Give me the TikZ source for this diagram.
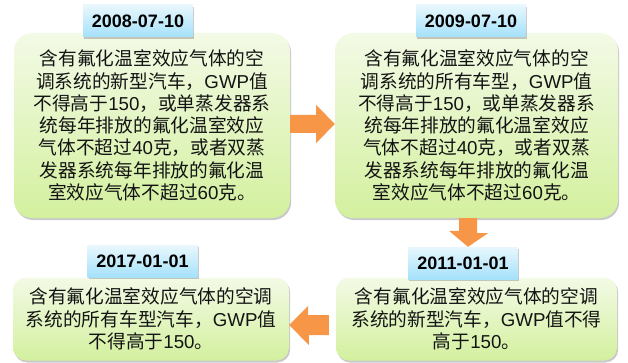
\documentclass[tikz,border=0pt]{standalone}
\usepackage{fontspec}
\setmainfont{Liberation Sans}
\newfontfamily\cjk{Noto Sans CJK SC}
\newcommand\la[1]{{\rmfamily #1}}
\usetikzlibrary{shadows,calc}
\definecolor{arrowc}{HTML}{F79646}
\definecolor{boxtop}{HTML}{F3FAE6}
\definecolor{boxbot}{HTML}{D3F09E}
\definecolor{tabtop}{HTML}{E8F7FD}
\definecolor{tabbot}{HTML}{A4E1FA}
\definecolor{txt}{HTML}{141414}
\tikzset{
  bigbox/.style={rounded corners=18pt, top color=boxtop, bottom color=boxbot,
    draw=none, inner sep=0pt, align=center, text=txt,
    font=\cjk\fontsize{18.7pt}{22.3pt}\selectfont,
    drop shadow={shadow xshift=1.2pt, shadow yshift=-2pt, opacity=0.35, fill=black!60}},
  smallbox/.style={bigbox, rounded corners=13pt},
  datetab/.style={top color=tabtop, bottom color=tabbot, draw=none, inner sep=0pt,
    minimum width=110pt, minimum height=32pt, text=black,
    font=\bfseries\fontsize{18pt}{21pt}\selectfont,
    drop shadow={shadow xshift=1.2pt, shadow yshift=-1.8pt, opacity=0.35, fill=black!60}},
  blockarrow/.style={fill=arrowc, draw=none}
}
\begin{document}
\begin{tikzpicture}[x=1pt,y=-1pt]
\useasboundingbox (0,0) rectangle (628,363);

\node[bigbox, minimum width=276pt, minimum height=185pt] (b1) at (152,125.5)
 {含有氟化温室效应气体的空\\
  调系统的新型汽车，\la{GWP}值\\
  不得高于\la{150}，或单蒸发器系\\
  统每年排放的氟化温室效应\\
  气体不超过\la{40}克，或者双蒸\\
  发器系统每年排放的氟化温\\
  室效应气体不超过\la{60}克。};
\node[bigbox, minimum width=283pt, minimum height=185pt] (b2) at (476.5,125.5)
 {含有氟化温室效应气体的空\\
  调系统的所有车型，\la{GWP}值\\
  不得高于\la{150}，或单蒸发器系\\
  统每年排放的氟化温室效应\\
  气体不超过\la{40}克，或者双蒸\\
  发器系统每年排放的氟化温\\
  室效应气体不超过\la{60}克。};
\node[smallbox, minimum width=281pt, minimum height=83pt] (b3) at (476.5,319)
 {含有氟化温室效应气体的空调\\
  系统的新型汽车，\la{GWP}值不得\\
  高于\la{150}。};
\node[smallbox, minimum width=276pt, minimum height=83pt] (b4) at (151,319)
 {含有氟化温室效应气体的空调\\
  系统的所有车型汽车，\la{GWP}值\\
  不得高于\la{150}。};

\node[datetab] (t1) at (138,21) {2008-07-10};
\node[datetab] (t2) at (471,21) {2009-07-10};
\node[datetab] (t3) at (463,263) {2011-01-01};
\node[datetab] (t4) at (142.5,261.5) {2017-01-01};

% right arrow b1 -> b2
\fill[blockarrow] ($(b1.east)+(0,-10.5)$) -- ++(26,0) -- ++(0,-10) -- ($(b2.west)+(0,-1.5)$)
  -- ($(b1.east)+(26,17.5)$) -- ++(0,-10) -- ($(b1.east)+(0,7.5)$) -- cycle;
% down arrow b2 -> t3
\fill[blockarrow] ($(b2.south)+(-17.5,0)$) -- ++(18,0) -- ++(0,15) -- ++(11,0)
  -- (t3.north -| {$(b2.south)+(-8.5,0)$}) -- ++(-19,-16) -- ++(10,0) -- cycle;
% left arrow b3 -> b4
\fill[blockarrow] ($(b3.west)+(-7,-4)$) -- ++(0,20) -- ++(-20,0) -- ++(0,10)
  -- ($(b4.east)+(0,6)$) -- ++(19,-19) -- ++(0,9) -- cycle;
\end{tikzpicture}
\end{document}
